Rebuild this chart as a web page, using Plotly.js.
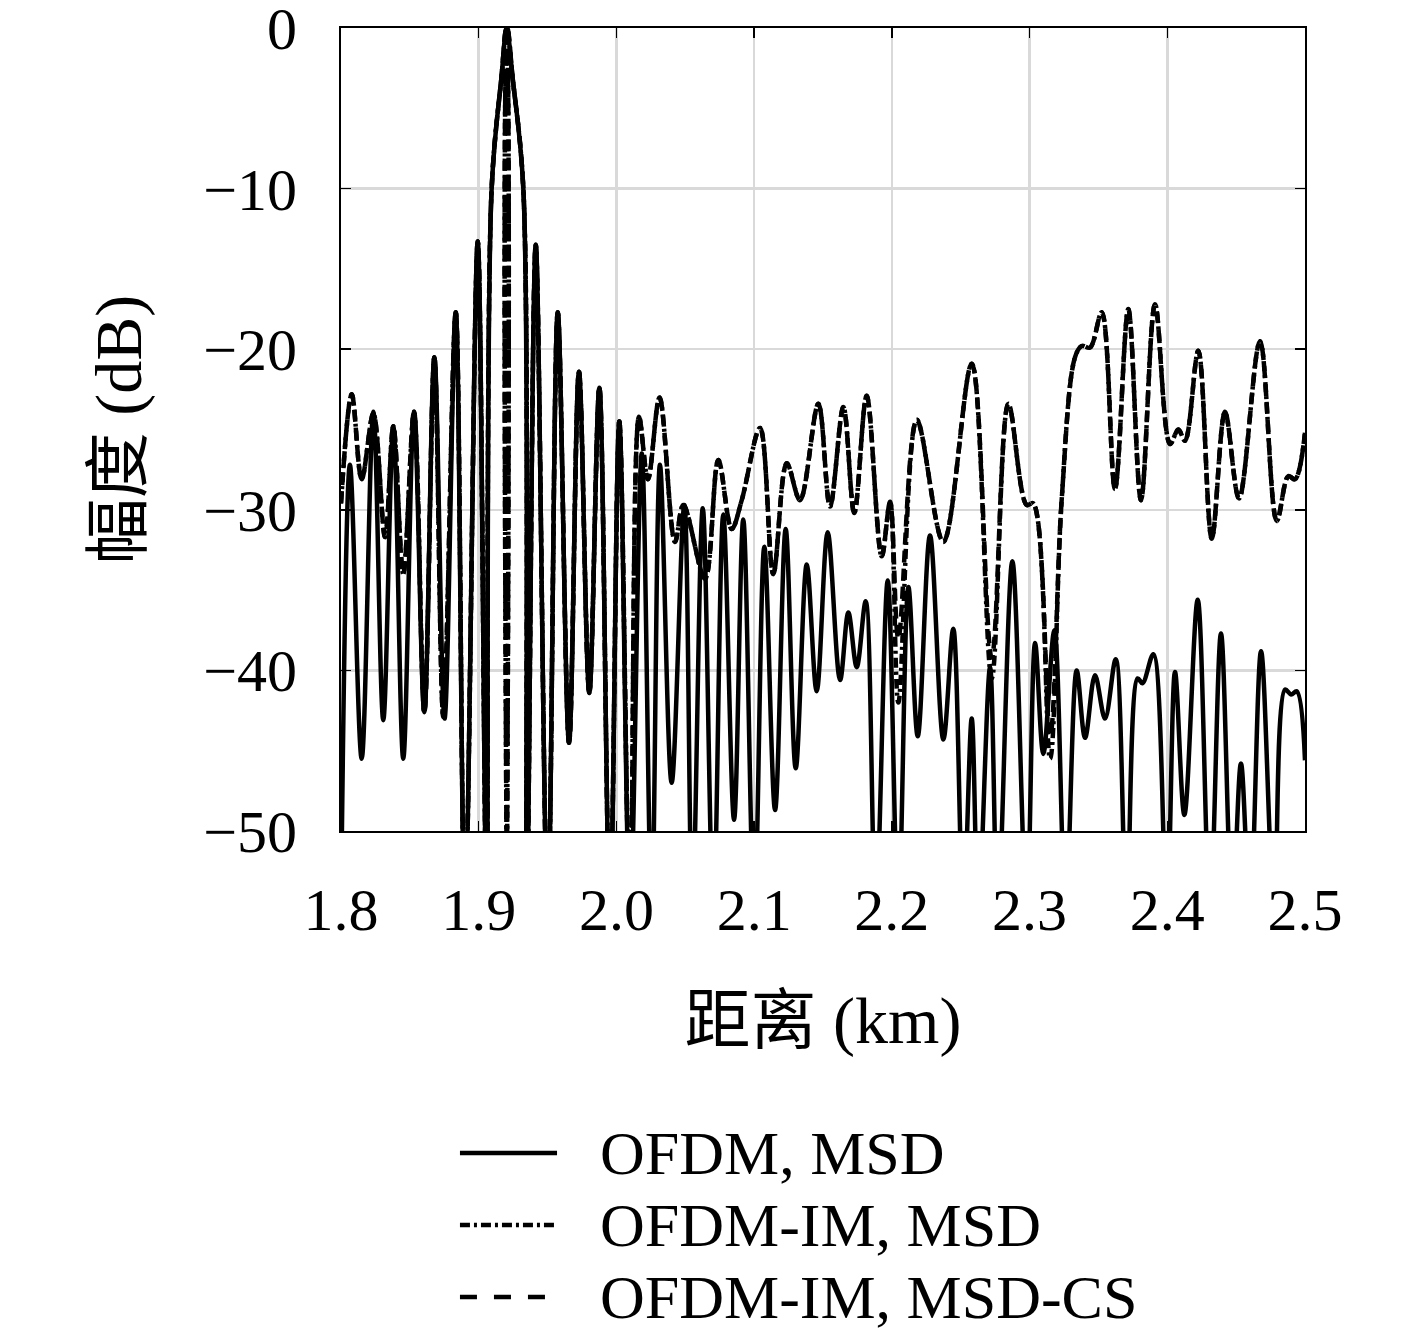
<!DOCTYPE html>
<html>
<head>
<meta charset="utf-8">
<script src="https://cdn.plot.ly/plotly-3.0.1.min.js"></script>
<style>
  body { margin: 0; background: #ffffff; }
  #grafico { width: 1417px; height: 1339px; }
</style>
</head>
<body>
<div id="grafico"></div>
<script>
/* =========================================
   DADOS (km, dB)
========================================= */

// OFDM, MSD  (linha cheia)
let xSolid = [1.8000, 1.8065, 1.8150, 1.8235, 1.8307, 1.8380, 1.8452, 1.8530, 1.8605, 1.8678,
    1.8752, 1.8833, 1.8900, 1.8993, 1.9058, 1.9094, 1.9166, 1.9203, 1.9245, 1.9324, 1.9349, 1.9414,
    1.9501, 1.9574, 1.9656, 1.9728, 1.9803, 1.9876, 1.9953, 2.0021, 2.0099, 2.0184,
    2.0256, 2.0316, 2.0401, 2.0493, 2.0551, 2.0627, 2.0704, 2.0776, 2.0854, 2.0921,
    2.1001, 2.1074, 2.1152, 2.1229, 2.1302, 2.1382, 2.1454, 2.1534, 2.1624, 2.1684,
    2.1745, 2.1810, 2.1883, 2.1970, 2.2047, 2.2120, 2.2188, 2.2277, 2.2374, 2.2446,
    2.2519, 2.2580, 2.2628, 2.2713, 2.2769, 2.2875, 2.2979, 2.3040, 2.3100, 2.3180,
    2.3262, 2.3342, 2.3403, 2.3475, 2.3548, 2.3626, 2.3705, 2.3785, 2.3820, 2.3899,
    2.3996, 2.4056, 2.4124, 2.4221, 2.4310, 2.4390, 2.4472, 2.4535, 2.4601, 2.4681,
    2.4777, 2.4855, 2.4899, 2.4940, 2.5000];

let ySolid = [-55, -27.2, -45.5, -23.9, -43.1, -24.8, -45.5, -23.9, -42.6, -20.5,
    -43.0, -17.7, -55, -13.3, -55, -10, -3, 0, -3, -10, -55, -13.5,
    -55, -17.7, -44.5, -21.4, -41.4, -22.4, -55, -24.5, -55, -26.5,
    -55, -27.2, -47.0, -29.7, -55, -29.9, -55, -30.3, -49.3, -30.6,
    -55, -32.3, -48.7, -31.2, -46.1, -33.4, -41.3, -31.4, -40.6, -36.4,
    -39.8, -35.7, -55, -34.4, -55, -34.8, -44.1, -31.6, -44.3, -37.4,
    -55, -43.0, -55, -39.8, -55, -33.2, -55, -38.3, -45.2, -37.5,
    -55, -40.0, -44.2, -40.3, -43.0, -39.3, -55, -40.5, -40.8, -39.0,
    -55, -40.1, -49.0, -35.6, -55, -37.7, -55, -45.8, -55, -38.8,
    -55, -41.2, -41.5, -41.3, -45.6];

// OFDM-IM (as duas curvas tracejadas usam o mesmo eixo x)
let xIm = [1.8000, 1.8078, 1.8150, 1.8235, 1.8320, 1.8380, 1.8452, 1.8530, 1.8605, 1.8678,
    1.8743, 1.8833, 1.8900, 1.8993, 1.9058, 1.9094, 1.9166, 1.9200, 1.9204, 1.9208, 1.9245, 1.9324,
    1.9349, 1.9414, 1.9501, 1.9574, 1.9656, 1.9728, 1.9803, 1.9876, 1.9953, 2.0021,
    2.0099, 2.0164, 2.0229, 2.0313, 2.0425, 2.0486, 2.0643, 2.0740, 2.0837, 2.0910,
    2.1043, 2.1139, 2.1237, 2.1333, 2.1466, 2.1551, 2.1648, 2.1727, 2.1817, 2.1926,
    2.1987, 2.2047, 2.2181, 2.2374, 2.2580, 2.2725, 2.2846, 2.2979, 2.3027, 2.3149,
    2.3233, 2.3330, 2.3379, 2.3439, 2.3524, 2.3620, 2.3717, 2.3809, 2.3911, 2.4020,
    2.4080, 2.4129, 2.4225, 2.4323, 2.4419, 2.4521, 2.4673, 2.4795, 2.4879, 2.4928,
    2.5000];

// OFDM-IM, MSD  (traço-ponto)
let yImMsd = [-29.6, -22.8, -28.1, -24.0, -31.7, -24.8, -34.0, -23.9, -42.6, -20.5,
    -42.9, -17.7, -55, -13.3, -55, -10, -3, 0, -55, 0, -3, -10,
    -55, -13.5, -55, -17.7, -44.5, -21.4, -41.4, -22.4, -55, -24.5,
    -55, -24.2, -28.1, -23.0, -32.0, -29.7, -34.3, -26.9, -31.2, -29.4,
    -24.9, -34.0, -27.1, -29.4, -23.4, -29.8, -23.6, -30.2, -22.9, -32.9,
    -29.5, -42.0, -24.4, -32.0, -20.9, -40.5, -23.4, -29.7, -29.6, -45.5,
    -29.4, -20.5, -19.8, -19.9, -17.7, -28.7, -17.5, -29.4, -17.2, -25.9,
    -25.0, -25.7, -20.1, -31.8, -23.9, -29.3, -19.5, -30.7, -27.9, -28.1,
    -25.2];

// OFDM-IM, MSD-CS  (tracejada)
let yImCs = [-29.6, -22.8, -28.1, -24.0, -31.7, -24.8, -34.0, -23.9, -42.6, -20.5,
    -42.9, -17.7, -55, -13.3, -55, -10, -3, 0, -55, 0, -3, -10,
    -55, -13.5, -55, -17.7, -44.5, -21.4, -41.4, -22.4, -55, -24.5,
    -55, -24.2, -28.1, -23.0, -32.0, -29.7, -34.3, -26.9, -31.2, -29.4,
    -24.9, -34.0, -27.1, -29.4, -23.4, -29.8, -23.6, -30.2, -22.9, -32.9,
    -29.5, -38.0, -24.4, -32.0, -20.9, -39.2, -23.4, -29.7, -29.6, -44.0,
    -29.4, -20.5, -19.8, -19.9, -17.7, -28.7, -17.5, -29.4, -17.2, -25.9,
    -25.0, -25.7, -20.1, -31.8, -23.9, -29.3, -19.5, -30.7, -27.9, -28.1,
    -25.2];

let nomes = ["OFDM, MSD", "OFDM-IM, MSD", "OFDM-IM, MSD-CS"];
let tracos = ["solid", "10px,4px,3px,4px", "12px,6px"];
let tracosLegenda = ["solid", "10px,4px,3px,4px", "17px,17px"];


/* =========================================
   GRÁFICO
========================================= */

let fonte = "Liberation Serif, 'Noto Sans CJK SC', serif";

let trace1 = {
    x: xSolid,
    y: ySolid,
    mode: "lines",
    name: nomes[0],
    line: { color: "#000000", width: 4.5, shape: "spline", dash: tracos[0] }
};

let trace2 = {
    x: xIm,
    y: yImMsd,
    mode: "lines",
    name: nomes[1],
    line: { color: "#000000", width: 4.5, shape: "spline", dash: tracos[1] }
};

let trace3 = {
    x: xIm,
    y: yImCs,
    mode: "lines",
    name: nomes[2],
    line: { color: "#000000", width: 4.5, shape: "spline", dash: tracos[2] }
};

// legenda desenhada à mão, abaixo do gráfico (amostra de linha + texto)
let legendaY = [-0.401, -0.4907, -0.5803];
let shapes = [];
let annotations = [];

nomes.forEach((nome, i) => {
    shapes.push({
        type: "line",
        xref: "paper", yref: "paper",
        x0: 0.1234, x1: 0.2241,
        y0: legendaY[i], y1: legendaY[i],
        line: { color: "#000000", width: 4.5, dash: tracosLegenda[i] }
    });
    annotations.push({
        xref: "paper", yref: "paper",
        x: 0.2666, y: legendaY[i],
        xanchor: "left", yanchor: "middle",
        text: nome,
        showarrow: false,
        font: { family: fonte, size: 62, color: "#000000" }
    });
});

let layout = {

    width: 1417,
    height: 1339,
    paper_bgcolor: "#ffffff",
    plot_bgcolor: "#ffffff",
    font: { family: fonte, size: 60, color: "#000000" },

    margin: { t: 28, l: 341, r: 112, b: 508, autoexpand: false },

    showlegend: false,
    shapes: shapes,
    annotations: annotations,

    xaxis: {
        range: [1.8, 2.5],
        tickmode: "linear",
        tick0: 1.8,
        dtick: 0.1,
        tickformat: ".1f",
        ticks: "inside",
        ticklen: 10,
        tickwidth: 1.5,
        tickcolor: "#000000",
        ticklabelstandoff: 25,
        ticklabeloverflow: "allow",
        showline: true,
        linecolor: "#000000",
        linewidth: 2,
        mirror: "ticks",
        showgrid: true,
        gridcolor: "#d9d9d9",
        gridwidth: 2.5,
        zeroline: false,
        title: { text: "距离 (km)", font: { family: fonte, size: 66 }, standoff: 55 }
    },

    yaxis: {
        range: [-50, 0],
        tickmode: "linear",
        tick0: 0,
        dtick: 10,
        ticks: "inside",
        ticklen: 10,
        tickwidth: 1.5,
        tickcolor: "#000000",
        ticklabelstandoff: 30,
        ticklabeloverflow: "allow",
        showline: true,
        linecolor: "#000000",
        linewidth: 2,
        mirror: "ticks",
        showgrid: true,
        gridcolor: "#d9d9d9",
        gridwidth: 2.5,
        zeroline: false,
        title: { text: "幅度 (dB)", font: { family: fonte, size: 66 }, standoff: 40 }
    }
};

Plotly.newPlot(
    "grafico",
    [trace1, trace2, trace3],
    layout,
    { displayModeBar: false, staticPlot: true }
);
</script>
</body>
</html>
